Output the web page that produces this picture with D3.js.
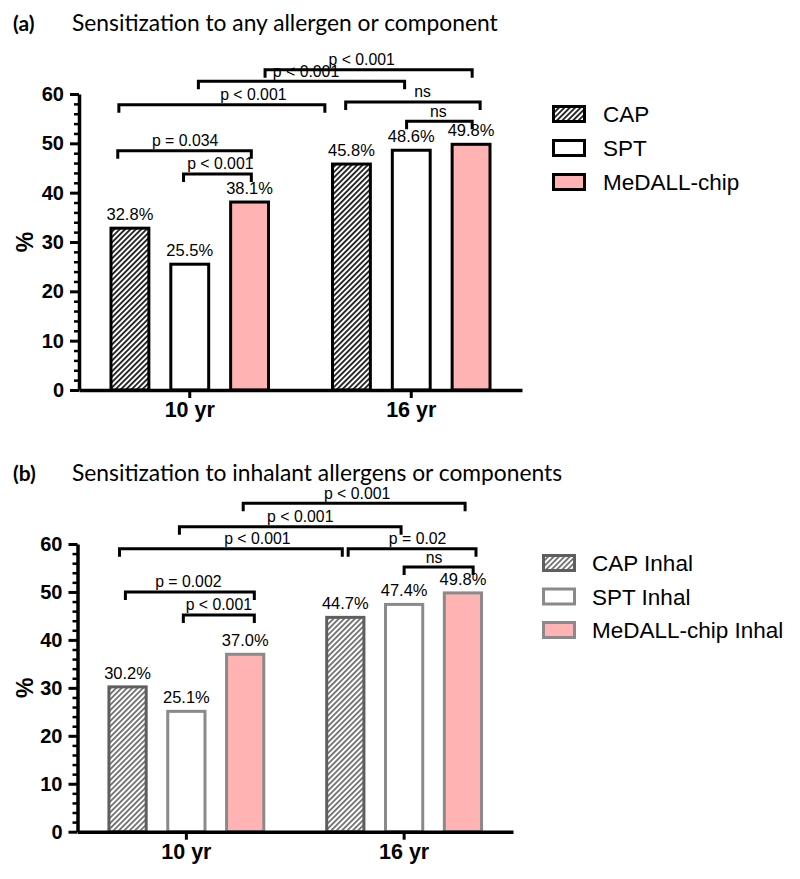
<!DOCTYPE html>
<meta charset="utf-8">
<title>Sensitization by method</title>
<script src="https://d3js.org/d3.v7.min.js"></script>
<style>
  body { margin: 0; background: white; }
  svg text { font-family: "Liberation Sans", Arial, sans-serif; fill: black; }
  .ttl { font-family: Lato, "Open Sans", sans-serif; }
</style>
<body>
<div id="chart"></div>
<script>
// ---- data ----
var groups = ["10 yr", "16 yr"];
var yTicks = [0, 10, 20, 30, 40, 50, 60];

var seriesA = ["CAP", "SPT", "MeDALL-chip"];
var valuesA10 = [32.8, 25.5, 38.1];
var valuesA16 = [45.8, 48.6, 49.8];

var seriesB = ["CAP Inhal", "SPT Inhal", "MeDALL-chip Inhal"];
var valuesB10 = [30.2, 25.1, 37.0];
var valuesB16 = [44.7, 47.4, 49.8];

// significance brackets: ends and label position in group units (0..2), height in %
var bracketsA = [
  {from: 0.840, to: 1.775, y: 64.9, lx: 1.276, label: "p < 0.001"},
  {from: 0.539, to: 1.470, y: 62.6, lx: 1.025, label: "p < 0.001"},
  {from: 0.180, to: 1.110, y: 57.8, lx: 0.787, label: "p < 0.001"},
  {from: 1.204, to: 1.811, y: 58.4, lx: 1.551, label: "ns"},
  {from: 1.479, to: 1.775, y: 54.5, lx: 1.622, label: "ns"},
  {from: 0.175, to: 0.778, y: 48.5, lx: 0.479, label: "p = 0.034"},
  {from: 0.472, to: 0.778, y: 43.8, lx: 0.638, label: "p < 0.001"}
];
var bracketsB = [
  {from: 0.761, to: 1.780, y: 68.5, lx: 1.284, label: "p < 0.001"},
  {from: 0.468, to: 1.486, y: 63.6, lx: 1.023, label: "p < 0.001"},
  {from: 0.193, to: 1.216, y: 59.0, lx: 0.826, label: "p < 0.001"},
  {from: 1.243, to: 1.830, y: 59.0, lx: 1.562, label: "p = 0.02"},
  {from: 1.500, to: 1.817, y: 55.2, lx: 1.638, label: "ns"},
  {from: 0.220, to: 0.812, y: 50.0, lx: 0.509, label: "p = 0.002"},
  {from: 0.486, to: 0.812, y: 45.2, lx: 0.649, label: "p < 0.001"}
];

var pink = "#ffb3b3";

var panels = [
  {tag: "(a)", title: "Sensitization to any allergen or component", titleY: 31,
   series: seriesA, values: [valuesA10, valuesA16], brackets: bracketsA,
   left: 79, right: 522, top: 94, bottom: 390,
   legX: 553.5, legY: 106.5, legStep: 34, legTextX: 603,
   strokes: ["#000", "#000", "#000"], hatch: "#000", id: "hA"},
  {tag: "(b)", title: "Sensitization to inhalant allergens or components", titleY: 481,
   series: seriesB, values: [valuesB10, valuesB16], brackets: bracketsB,
   left: 77.5, right: 513, top: 544, bottom: 831.7,
   legX: 543.5, legY: 555.5, legStep: 33.5, legTextX: 592,
   strokes: ["#5e5e5e", "#8a8a8a", "#8a8a8a"], hatch: "#5e5e5e", id: "hB"}
];

var svg = d3.select("#chart").append("svg")
    .attr("width", 800)
    .attr("height", 879);

var defs = svg.append("defs");

panels.forEach(function(p) {
  var pat = defs.append("pattern")
      .attr("id", p.id)
      .attr("patternUnits", "userSpaceOnUse")
      .attr("width", 3.8)
      .attr("height", 3.8)
      .attr("patternTransform", "rotate(45)");
  pat.append("rect").attr("width", 3.8).attr("height", 3.8).attr("fill", "white");
  pat.append("line")
      .attr("x1", 0.9).attr("x2", 0.9).attr("y1", 0).attr("y2", 3.8)
      .attr("stroke", p.hatch).attr("stroke-width", 1.6);
  drawPanel(p);
});

function drawPanel(p) {
  var g = svg.append("g");
  var fills = ["url(#" + p.id + ")", "white", pink];

  var x = d3.scaleBand().domain(groups).range([p.left, p.right]);
  var bw = x.bandwidth();
  var half = bw * 0.405;
  var xs = d3.scaleBand().domain(p.series)
      .range([bw / 2 - half, bw / 2 + half])
      .paddingInner(0.367).paddingOuter(0.183);
  var xu = d3.scaleLinear().domain([0, 2]).range([p.left, p.right]);
  var y = d3.scaleLinear().domain([0, 60]).range([p.bottom, p.top]);

  // titles
  g.append("text").attr("class", "ttl")
      .attr("x", 13).attr("y", p.titleY)
      .style("font-weight", "bold").style("font-size", "21px")
      .text(p.tag);
  g.append("text").attr("class", "ttl")
      .attr("x", 72).attr("y", p.titleY)
      .style("font-size", "22.8px")
      .text(p.title);

  // bars
  var rows = [];
  groups.forEach(function(grp, gi) {
    p.series.forEach(function(s, si) {
      rows.push({group: grp, series: s, si: si, value: p.values[gi][si]});
    });
  });

  var bars = g.selectAll(".bar").data(rows).enter().append("g")
      .attr("transform", function(d) { return "translate(" + x(d.group) + ",0)"; });
  bars.append("rect")
      .attr("x", function(d) { return xs(d.series); })
      .attr("y", function(d) { return y(d.value); })
      .attr("width", xs.bandwidth())
      .attr("height", function(d) { return y(0) - y(d.value); })
      .attr("fill", function(d) { return fills[d.si]; })
      .attr("stroke", function(d) { return p.strokes[d.si]; })
      .attr("stroke-width", 3);
  bars.append("text")
      .attr("x", function(d) { return xs(d.series) + xs.bandwidth() / 2; })
      .attr("y", function(d) { return y(d.value) - 8; })
      .attr("text-anchor", "middle")
      .style("font-size", "16.5px")
      .text(function(d) { return d.value.toFixed(1) + "%"; });

  // y axis
  var minor = d3.range(0, 61, 2).filter(function(v) { return v % 10 !== 0; });
  var yMinor = g.append("g")
      .attr("transform", "translate(" + p.left + ",0)")
      .call(d3.axisLeft(y).tickValues(minor).tickSize(5).tickFormat(""));
  yMinor.select(".domain").remove();
  yMinor.selectAll("line").attr("stroke-width", 2.5);

  var yAxis = g.append("g")
      .attr("transform", "translate(" + p.left + ",0)")
      .call(d3.axisLeft(y).tickValues(yTicks).tickSize(9).tickSizeOuter(0).tickPadding(6));
  yAxis.select(".domain").attr("stroke-width", 3.5);
  yAxis.selectAll("line").attr("stroke-width", 3);
  yAxis.selectAll("text")
      .style("font-size", "20px").style("font-weight", "bold")
      .style("font-family", "'Liberation Sans', Arial, sans-serif");

  g.append("text")
      .attr("transform", "translate(33," + (p.top + p.bottom) / 2 + ") rotate(-90)")
      .attr("text-anchor", "middle")
      .style("font-size", "23px").style("font-weight", "bold")
      .text("%");

  // x axis
  var xAxis = g.append("g")
      .attr("transform", "translate(0," + p.bottom + ")")
      .call(d3.axisBottom(x).tickSize(8).tickSizeOuter(0).tickPadding(4));
  xAxis.select(".domain").attr("stroke-width", 3.5);
  xAxis.selectAll("line").attr("stroke-width", 3);
  xAxis.selectAll("text")
      .style("font-size", "21.5px").style("font-weight", "bold")
      .style("font-family", "'Liberation Sans', Arial, sans-serif");

  // significance brackets
  var leg = 8;
  var br = g.selectAll(".br").data(p.brackets).enter().append("g");
  br.append("path")
      .attr("d", function(d) {
        var yy = y(d.y);
        return "M" + xu(d.from) + "," + (yy + leg) + "V" + yy + "H" + xu(d.to) + "V" + (yy + leg);
      })
      .attr("fill", "none")
      .attr("stroke", "black")
      .attr("stroke-width", 3);
  br.append("text")
      .attr("x", function(d) { return xu(d.lx); })
      .attr("y", function(d) { return y(d.y) - 4.5; })
      .attr("text-anchor", "middle")
      .style("font-size", "15.8px")
      .text(function(d) { return d.label; });

  // legend
  var lg = g.selectAll(".lg").data(p.series).enter().append("g")
      .attr("transform", function(d, i) { return "translate(0," + (p.legY + i * p.legStep) + ")"; });
  lg.append("rect")
      .attr("x", p.legX).attr("y", 0)
      .attr("width", 31).attr("height", 15)
      .attr("fill", function(d, i) { return fills[i]; })
      .attr("stroke", function(d, i) { return p.strokes[i]; })
      .attr("stroke-width", 3);
  lg.append("text")
      .attr("x", p.legTextX).attr("y", 15.5)
      .style("font-size", "22.5px")
      .text(function(d) { return d; });
}
</script>
</body>
